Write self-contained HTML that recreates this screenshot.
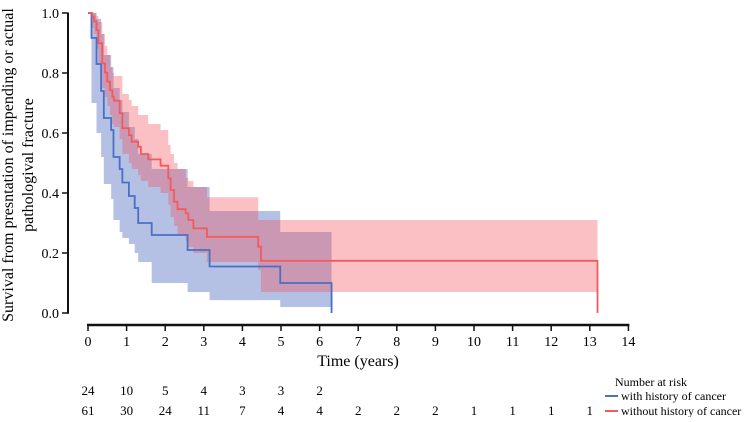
<!DOCTYPE html>
<html><head><meta charset="utf-8"><style>
html,body{margin:0;padding:0;background:#fff;}
svg, svg text{font-family:"Liberation Serif","DejaVu Serif","Times New Roman",serif;}
</style></head><body>
<svg id="c" width="746" height="417" viewBox="0 0 746 417" font-family="Liberation Serif, serif">
<g id="bands"></g><g id="lines"></g><g id="axes"></g>
<text x="13" y="165" transform="rotate(-90 13 165)" text-anchor="middle" font-size="16" font-family="Liberation Serif, serif">Survival from presntation of impending or actual</text>
<text x="33" y="165" transform="rotate(-90 33 165)" text-anchor="middle" font-size="16" font-family="Liberation Serif, serif">pathologival fracture</text>
<text x="358" y="366" text-anchor="middle" font-size="16" font-family="Liberation Serif, serif">Time (years)</text>
<g id="risk"></g>
<g font-family="Liberation Serif, serif">
<text x="615" y="386" font-size="12">Number at risk</text>
<line x1="605" y1="396" x2="618" y2="396" stroke="#4a6fc4" stroke-width="2"/>
<text x="621" y="400" font-size="12">with history of cancer</text>
<line x1="605" y1="411" x2="618" y2="411" stroke="#f25a5f" stroke-width="2"/>
<text x="621" y="415" font-size="12">without history of cancer</text>
</g>
</svg>
<script>
const blueT=[0,0.09,0.22,0.34,0.41,0.60,0.66,0.82,0.89,1.06,1.21,1.30,1.65,2.58,3.15,4.98];
const blueS=[1,0.917,0.83,0.74,0.65,0.61,0.52,0.48,0.435,0.39,0.35,0.30,0.26,0.21,0.155,0.10];
const blueLo=[1,0.70,0.60,0.52,0.43,0.38,0.31,0.27,0.25,0.23,0.20,0.17,0.10,0.07,0.043,0.02];
const blueHi=[1,1,0.98,0.93,0.86,0.82,0.75,0.71,0.67,0.62,0.58,0.53,0.48,0.42,0.34,0.27];
const blueEnd=6.31;
const redT=[0,0.11,0.16,0.22,0.27,0.37,0.44,0.50,0.57,0.63,0.67,0.82,0.89,1.06,1.13,1.30,1.37,1.56,1.88,2.08,2.14,2.23,2.32,2.53,2.60,2.73,3.08,4.41,4.48];
const redS=[1,0.988,0.972,0.943,0.899,0.832,0.801,0.771,0.743,0.721,0.708,0.666,0.616,0.593,0.571,0.554,0.530,0.512,0.491,0.449,0.41,0.371,0.346,0.332,0.31,0.282,0.254,0.221,0.174];
const redHi=[1,1,1,0.99,0.97,0.93,0.89,0.86,0.82,0.80,0.79,0.79,0.73,0.71,0.69,0.66,0.66,0.63,0.61,0.56,0.53,0.50,0.48,0.45,0.44,0.42,0.386,0.31,0.31];
const redLo=[1,0.95,0.93,0.88,0.83,0.75,0.72,0.69,0.66,0.63,0.62,0.58,0.53,0.50,0.48,0.46,0.44,0.42,0.40,0.36,0.32,0.29,0.26,0.24,0.22,0.20,0.17,0.143,0.07];
const redEnd=13.2;
const xTicks=[0,1,2,3,4,5,6,7,8,9,10,11,12,13,14];
const yTicks=[0,0.2,0.4,0.6,0.8,1.0];
const riskWith=[24,10,5,4,3,3,2];
const riskWithout=[61,30,24,11,7,4,4,2,2,2,1,1,1,1];
const NS='http://www.w3.org/2000/svg';
const FF='Liberation Serif, serif';
const X=t=>88+t*38.6, Y=s=>313-s*300;
function mk(tag,attrs,parent){const e=document.createElementNS(NS,tag);for(const k in attrs)e.setAttribute(k,attrs[k]);parent.appendChild(e);return e;}
function stepPath(T,V,end){let d='M'+X(T[0])+','+Y(V[0]);for(let i=1;i<T.length;i++){d+=' H'+X(T[i])+' V'+Y(V[i]);}d+=' H'+X(end);return d;}
function band(T,Hi,Lo,end){let up='M'+X(T[0])+','+Y(Hi[0]);for(let i=1;i<T.length;i++)up+=' H'+X(T[i])+' V'+Y(Hi[i]);up+=' H'+X(end)+' V'+Y(Lo[Lo.length-1]);for(let i=T.length-1;i>0;i--)up+=' H'+X(T[i])+' V'+Y(Lo[i-1]);up+=' H'+X(T[0])+' Z';return up;}
const bands=document.getElementById('bands'),lines=document.getElementById('lines'),axes=document.getElementById('axes'),risk=document.getElementById('risk');
let e;
e=mk('path',{d:band(blueT,blueHi,blueLo,blueEnd),fill:'#b4c1e4'},bands);


e=mk('path',{d:band(redT,redHi,redLo,redEnd),fill:'rgb(240,80,90)','fill-opacity':'0.36'},bands);


e=mk('path',{d:stepPath(blueT,blueS,blueEnd)+' V'+Y(0),fill:'none',stroke:'#4a6fc4','stroke-width':'1.8'},lines);


e=mk('path',{d:stepPath(redT,redS,redEnd)+' V'+Y(0),fill:'none',stroke:'#f25a5f','stroke-width':'1.8'},lines);


e=mk('line',{x1:68,y1:Y(1)-0.5,x2:68,y2:Y(0)+0.8,stroke:'#111','stroke-width':'2'},axes);


yTicks.forEach(v=>{
 let t=mk('line',{x1:62,y1:Y(v),x2:68,y2:Y(v),stroke:'#111','stroke-width':'1.5'},axes);
 
 
 let l=mk('text',{x:59,y:Y(v)+5,'text-anchor':'end','font-size':'14','font-family':FF},axes);l.textContent=v.toFixed(1);
 
 
});
e=mk('line',{x1:X(0)-1,y1:325,x2:X(14)+1,y2:325,stroke:'#111','stroke-width':'2.5'},axes);


xTicks.forEach(v=>{
 let t=mk('line',{x1:X(v),y1:325,x2:X(v),y2:331,stroke:'#111','stroke-width':'1.5'},axes);
 
 
 let l=mk('text',{x:X(v),y:346,'text-anchor':'middle','font-size':'14','font-family':FF},axes);l.textContent=v;
 
 
});
riskWith.forEach((v,i)=>{let l=mk('text',{x:X(i),y:395,'text-anchor':'middle','font-size':'13','font-family':FF},risk);l.textContent=v;
 
 });
riskWithout.forEach((v,i)=>{let l=mk('text',{x:X(i),y:415,'text-anchor':'middle','font-size':'13','font-family':FF},risk);l.textContent=v;
 
 });
</script>
</body></html>
